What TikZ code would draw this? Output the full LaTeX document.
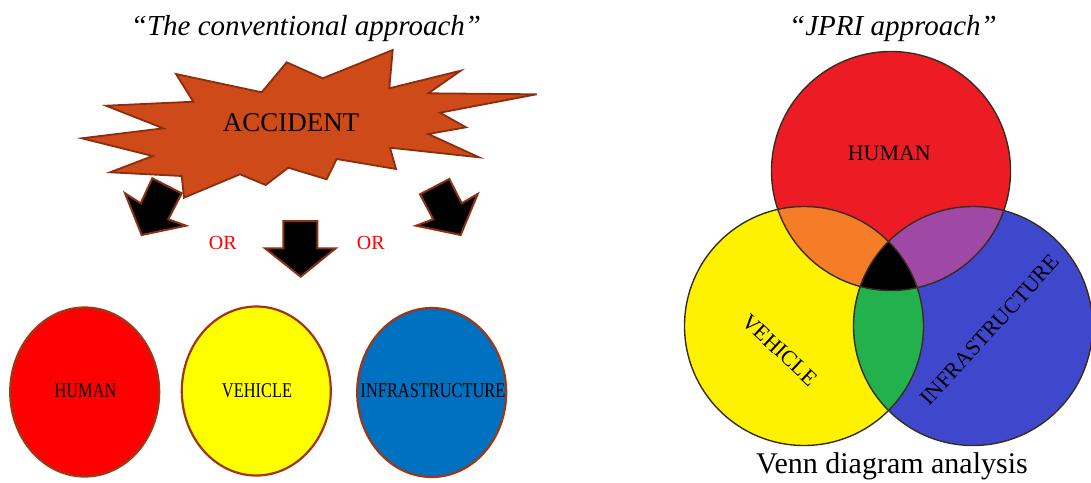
\documentclass[tikz,border=0pt]{standalone}
\usepackage{fontspec}
\setmainfont{Liberation Serif}
\newfontfamily\condfont[FakeStretch=0.78]{Liberation Serif}
\usetikzlibrary{shapes.geometric}
\definecolor{burstfill}{RGB}{206,74,24}
\definecolor{burstline}{RGB}{140,45,15}
\definecolor{arrline}{RGB}{140,50,20}
\definecolor{cred}{RGB}{255,0,0}
\definecolor{cyellow}{RGB}{255,255,0}
\definecolor{cblue}{RGB}{0,112,192}
\definecolor{cline}{RGB}{160,55,20}
\definecolor{vred}{RGB}{237,28,36}
\definecolor{vyellow}{RGB}{255,242,0}
\definecolor{vblue}{RGB}{63,72,204}
\definecolor{vorange}{RGB}{245,125,40}
\definecolor{vpurple}{RGB}{160,72,165}
\definecolor{vgreen}{RGB}{34,177,76}
\definecolor{vline}{RGB}{55,45,30}
\definecolor{orred}{RGB}{255,0,0}
\begin{document}
\begin{tikzpicture}[x=1pt,y=-1pt,
  burst/.style={fill=burstfill,draw=burstline,line width=1.8pt,line join=miter},
  blockarrow/.style={fill=black,draw=arrline,line width=2pt,line join=miter},
  factor/.style={ellipse,draw=cline,line width=2.2pt,minimum width=149pt,minimum height=169pt,inner sep=0pt},
  flabel/.style={font=\condfont\fontsize{21}{24}\selectfont,text=black},
  vlabel/.style={font=\fontsize{22}{25}\selectfont,text=black,inner sep=0pt},
  title/.style={font=\itshape\fontsize{29}{32}\selectfont},
  orlabel/.style={font=\fontsize{20}{22}\selectfont,text=orred},
  vcircle/.style={draw=vline,line width=1.4pt}]
\useasboundingbox (0,0) rectangle (1091,482);

% titles
\node[title] (t1) at (306,29) {``The conventional approach''};
\node[title] (t2) at (893,29) {``JPRI approach''};

% block arrows
\draw[blockarrow] (152.3,178.3) -- (181.7,193.3) -- (168.3,219.3) -- (186,225.7) -- (141.7,235) -- (125,193.3) -- (140.7,203.3) -- cycle;
\draw[blockarrow] (283.3,221) -- (317.3,221) -- (317.3,248.3) -- (335.7,248.3) -- (300.7,276.7) -- (265,248.3) -- (283.3,248.3) -- cycle;
\draw[blockarrow] (449.3,179) -- (420,194.3) -- (433.3,219.3) -- (416,225.7) -- (460.7,235) -- (477.7,194) -- (461.7,203.3) -- cycle;

% starburst
\draw[burst] (392.7,50) -- (389.3,88.3) -- (460.7,70.7) -- (428.3,93.3) -- (536.7,94.3) -- (440,112.7) -- (466,127.3) -- (428.3,134) -- (479,157.3) -- (390,147.7) -- (396,169) -- (336.7,159) -- (326.7,179.3) -- (288.3,167.7) -- (265.7,185) -- (240,174.3) -- (184,197.7) -- (181.7,176) -- (110,172.3) -- (152.7,156) -- (81.7,138.3) -- (163.3,128.3) -- (106,105.7) -- (193.3,101.7) -- (176,74) -- (261.7,92.3) -- (286.7,62.3) -- (322.7,78.3) -- cycle;
\node[font=\fontsize{27}{30}\selectfont] (acc) at (291,122.5) {ACCIDENT};

\node[orlabel] (or1) at (222.7,243) {OR};
\node[orlabel] (or2) at (370.7,243) {OR};

% factor circles
\node[factor,fill=cred] (human) at (84.7,392) {};
\node[factor,fill=cyellow] (vehicle) at (256.3,391) {};
\node[factor,fill=cblue] (infra) at (431.7,392.5) {};
\node[flabel] (hl) at (85.5,390.7) {HUMAN};
\node[flabel] (vl) at (257,390.7) {VEHICLE};
\node[flabel] (il) at (433,390.7) {INFRASTRUCTURE};

% Venn
\coordinate (R) at (891,171);
\coordinate (Y) at (804,326);
\coordinate (B) at (973,326);
\fill[vred] (R) circle (119.5);
\fill[vyellow] (Y) circle (119.5);
\fill[vblue] (B) circle (119.5);
\begin{scope}
  \clip (R) circle (119.5);
  \fill[vorange] (Y) circle (119.5);
  \fill[vpurple] (B) circle (119.5);
\end{scope}
\begin{scope}
  \clip (Y) circle (119.5);
  \fill[vgreen] (B) circle (119.5);
  \clip (B) circle (119.5);
  \fill[black] (R) circle (119.5);
\end{scope}
\draw[vcircle] (R) circle (119.5);
\draw[vcircle] (Y) circle (119.5);
\draw[vcircle] (B) circle (119.5);

\node[vlabel] (vh) at (889.3,153.5) {HUMAN};
\node[vlabel,rotate=-43] (vv) at (779.5,350) {VEHICLE};
\node[vlabel,rotate=47.7] (vi) at (990,330) {INFRASTRUCTURE};

\node[font=\fontsize{30}{33}\selectfont] (cap) at (892,466) {Venn diagram analysis};
\end{tikzpicture}
\end{document}
